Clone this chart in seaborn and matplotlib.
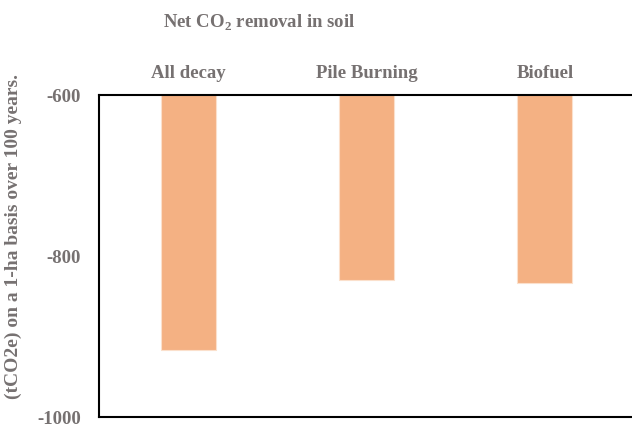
import matplotlib
matplotlib.use("Agg")
import matplotlib.pyplot as plt
import seaborn as sns
import pandas as pd

sns.set_theme(style="white")
plt.rcParams["font.family"] = ["Liberation Serif", "DejaVu Serif"]
plt.rcParams["mathtext.fontset"] = "custom"
plt.rcParams["mathtext.rm"] = "Liberation Serif:bold"
plt.rcParams["mathtext.bf"] = "Liberation Serif:bold"

# values
scenarios = ["All decay", "Pile Burning", "Biofuel"]
co2_removal = [-917, -830, -833]
y_ticks = [-600, -800, -1000]

grey = "#767171"
bar_col = "#F4B183"

df = pd.DataFrame({"scenario": scenarios, "removal": co2_removal})

fig = plt.figure(figsize=(6.32, 4.27), dpi=100)
ax = fig.add_axes([99 / 632, 1 - 418 / 427, (634 - 99) / 632, (418 - 96) / 427])

sns.barplot(data=df, x="scenario", y="removal", color=bar_col, width=0.31,
            edgecolor="#FBE0CC", linewidth=0.8, saturation=1, ax=ax)

ax.set_ylim(-1000, -600)
ax.set_xlim(-0.5, 2.5)
ax.set_yticks(y_ticks)
ax.set_yticklabels([str(t) for t in y_ticks])
ax.xaxis.tick_top()
ax.tick_params(axis="both", length=0, labelsize=13.5, labelcolor=grey)
ax.tick_params(axis="x", pad=10)
ax.tick_params(axis="y", pad=13)
for lbl in ax.get_xticklabels() + ax.get_yticklabels():
    lbl.set_fontweight("bold")

ax.set_xlabel("")
ax.set_ylabel("(tCO2e) on a 1-ha basis over 100 years.", fontsize=14,
              fontweight="bold", color=grey)
ax.yaxis.set_label_coords(-0.144, 0.565)

for side in ["left", "top", "bottom"]:
    ax.spines[side].set_visible(True)
    ax.spines[side].set_color("black")
    ax.spines[side].set_linewidth(1.5)
ax.spines["right"].set_visible(False)

fig.text(259 / 632, 1 - 28 / 427, r"Net CO$_2$ removal in soil", ha="center", va="baseline",
         fontsize=13.5, fontweight="bold", color=grey)

fig.savefig("out.png", dpi=100)
